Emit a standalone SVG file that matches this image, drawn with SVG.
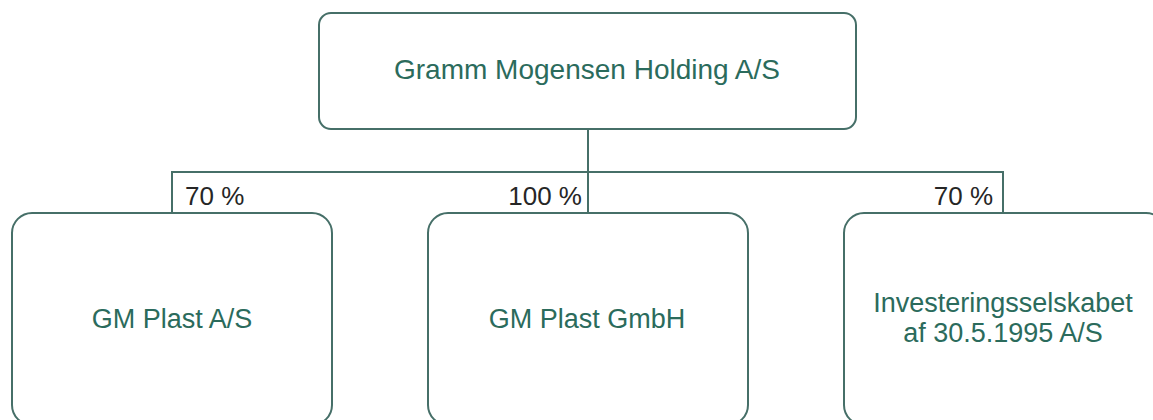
<svg xmlns="http://www.w3.org/2000/svg" width="1153" height="420" viewBox="0 0 1153 420">
<style>
.box{fill:#ffffff;stroke:#466f68;stroke-width:2}
.lbl{font-family:"Liberation Sans",Arial,sans-serif;font-size:27px;fill:#2b6b5c;text-anchor:middle}
.pct{font-family:"Liberation Sans",Arial,sans-serif;font-size:26px;fill:#262626}
.con{fill:none;stroke:#466f68;stroke-width:2}
</style>
<rect width="1153" height="420" fill="#ffffff"/>
<g id="connectors">
<path class="con" d="M588,129 V213 M172,213 V172 H1003 V213"/>
</g>
<g id="n-holding">
<rect class="box" x="319" y="13" width="537" height="116" rx="12"/>
<text class="lbl" x="587" y="79" style="font-size:28px">Gramm Mogensen Holding A/S</text>
</g>
<g id="n-plast-as">
<rect class="box" x="12" y="213" width="320" height="212" rx="20"/>
<text class="lbl" x="172" y="328">GM Plast A/S</text>
</g>
<g id="n-plast-gmbh">
<rect class="box" x="428" y="213" width="320" height="212" rx="20"/>
<text class="lbl" x="587" y="328">GM Plast GmbH</text>
</g>
<g id="n-invest">
<rect class="box" x="844" y="213" width="322" height="212" rx="20"/>
<text class="lbl" x="1003" y="312">Investeringsselskabet</text>
<text class="lbl" x="1003" y="342">af 30.5.1995 A/S</text>
</g>
<g id="labels">
<text class="pct" x="185" y="205">70 %</text>
<text class="pct" x="582" y="205" text-anchor="end">100 %</text>
<text class="pct" x="993" y="205" text-anchor="end">70 %</text>
</g>
</svg>
